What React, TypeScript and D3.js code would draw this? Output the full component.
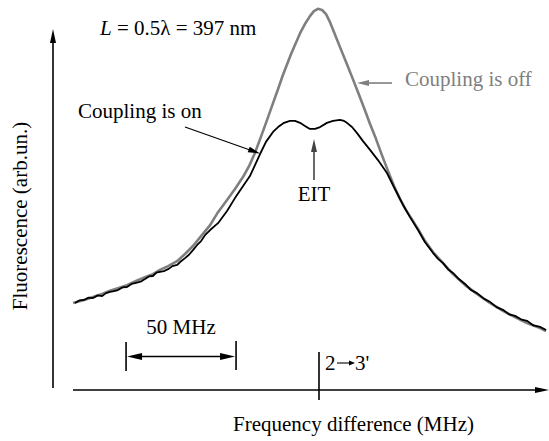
import React from "react";
import * as d3 from "d3";

// Frequency difference (MHz) and fluorescence (arb. units)
const freqOn = [-110.9,-108.8,-106.8,-104.7,-102.7,-100.6,-98.6,-96.8,-95.0,-93.2,-91.4,-89.3,-87.3,-85.2,-83.2,-81.1,-79.1,-77.3,-75.5,-73.9,-72.3,-70.5,-68.6,-66.6,-64.5,-62.7,-60.9,-59.1,-57.3,-55.5,-53.6,-51.6,-49.5,-45.9,-41.8,-38.2,-34.5,-31.4,-29.1,-26.8,-24.1,-20.9,-18.6,-15.9,-13.2,-10.9,-8.6,-6.4,-4.1,-1.8,0.5,3.6,6.4,9.5,11.4,12.7,15.0,17.3,20.0,23.2,26.8,30.9,34.5,38.2,41.4,45.0,48.2,51.8,54.1,56.4,58.6,60.9,63.6,66.4,69.1,71.8,74.8,77.7,80.7,83.6,86.4,89.1,91.8,94.5,97.5,100.5,103.2];
const fluorOn = [22.9,23.6,23.7,24.3,24.2,24.9,24.7,25.5,25.8,26.0,26.3,27.0,27.1,27.9,28.2,28.5,29.2,29.9,30.0,30.9,31.1,31.3,31.8,32.6,32.9,33.9,34.7,35.6,36.8,38.1,39.2,40.9,42.1,43.9,47.1,50.5,53.7,56.3,59.2,62.1,65.3,67.9,69.2,70.3,70.8,70.8,70.3,69.5,68.7,68.7,69.2,70.3,70.8,71.1,70.8,70.3,69.2,67.6,65.5,63.2,60.5,57.1,52.9,48.7,45.5,42.1,38.9,36.1,34.5,33.4,31.8,30.8,29.2,27.9,26.3,25.5,24.1,23.2,21.8,21.1,19.9,19.5,18.6,18.2,17.0,16.6,15.8];

const freqOff = [-111.8,-106.8,-102.7,-98.6,-95.0,-91.4,-87.3,-83.2,-79.1,-75.5,-72.3,-68.6,-64.5,-60.9,-57.3,-53.6,-49.5,-45.9,-41.8,-38.2,-34.5,-31.8,-29.1,-26.4,-23.6,-20.9,-18.6,-16.4,-12.7,-8.6,-6.4,-4.1,-2.3,-0.5,1.4,3.2,5.0,6.8,9.5,12.3,15.0,17.7,20.5,23.2,25.9,28.6,31.4,34.1,36.8,39.5,45.0,48.2,51.8,56.4,60.9,66.4,71.8,77.7,83.6,89.1,94.5,100.5,103.2];
const fluorOff = [22.9,23.7,24.5,25.3,26.1,26.8,27.6,28.7,29.7,30.5,31.6,32.6,33.9,35.8,37.9,40.5,43.4,46.8,50.0,52.9,56.1,58.9,62.4,66.6,71.1,75.5,79.2,82.9,88.4,93.9,96.3,98.4,99.7,100.3,100.0,98.9,96.8,94.2,90.3,86.3,82.4,78.4,74.2,70.0,66.1,61.8,57.6,53.7,50.3,47.4,42.4,39.2,36.3,33.4,30.5,27.6,25.3,22.9,20.8,19.2,17.6,16.3,15.5];

const scaleBarStart = -87.7; // MHz
const scaleBarWidth = 50; // MHz

const labels = {
  on: "Coupling is on",
  off: "Coupling is off",
  eit: "EIT",
  bar: "50 MHz",
  transFrom: "2",
  transTo: "3'",
  xTitle: "Frequency difference (MHz)",
  yTitle: "Fluorescence (arb.un.)",
};

const GRAY = "#7f7f7f";
const tstyle: React.CSSProperties = { fontFamily: '"Liberation Serif", "Times New Roman", Times, serif', fontSize: 21 };

function arrowHead(tx: number, ty: number, dx: number, dy: number, len: number, hw: number, fill: string) {
  const n = Math.hypot(dx, dy);
  const ux = dx / n, uy = dy / n;
  const bx = tx - ux * len, by = ty - uy * len;
  const px = -uy, py = ux;
  const pts = [
    [tx, ty],
    [bx + px * hw, by + py * hw],
    [bx - px * hw, by - py * hw],
  ];
  return <polygon points={pts.map((p) => p.join(",")).join(" ")} fill={fill} />;
}

export default function App() {
  const W = 549, H = 441;
  const x = d3.scaleLinear().domain([0, 50]).range([319, 429]);
  const y = d3.scaleLinear().domain([0, 100]).range([390, 10]);

  const line = d3.line<[number, number]>().x((d) => x(d[0])).y((d) => y(d[1])).curve(d3.curveLinear);
  const onPath = line(freqOn.map((f, i) => [f, fluorOn[i]] as [number, number])) || "";
  const offPath = line(freqOff.map((f, i) => [f, fluorOff[i]] as [number, number])) || "";

  const x0 = x(0);
  const axisY = y(0);
  const b0 = x(scaleBarStart), b1 = x(scaleBarStart + scaleBarWidth);
  const barY = 356.5;

  return (
    <svg width={W} height={H} style={{ position: "absolute", left: 0, top: 0, background: "#fff" }}>
      <rect width={W} height={H} fill="#fff" />
      {/* axes */}
      <line x1={53} y1={388} x2={53} y2={40} stroke="#000" strokeWidth={1.6} />
      {arrowHead(53, 29, 0, -1, 14, 3, "#000")}
      <line x1={73} y1={axisY} x2={538} y2={axisY} stroke="#000" strokeWidth={1.6} />
      {arrowHead(549, axisY, 1, 0, 14, 3, "#000")}
      <line x1={x0} y1={352} x2={x0} y2={400} stroke="#000" strokeWidth={1.6} />

      {/* curves */}
      <path d={offPath} fill="none" stroke={GRAY} strokeWidth={2.6} strokeLinejoin="round" />
      <path d={onPath} fill="none" stroke="#000" strokeWidth={1.8} strokeLinejoin="round" />

      {/* annotations */}
      <text x={100} y={35} style={tstyle}>
        <tspan fontStyle="italic">L</tspan> = 0.5λ = 397 nm
      </text>
      <text x={405} y={86} style={tstyle} fill={GRAY}>{labels.off}</text>
      <line x1={392} y1={83} x2={368} y2={83} stroke={GRAY} strokeWidth={1.6} />
      {arrowHead(357, 83, -1, 0, 12, 3, GRAY)}

      <text x={78} y={118} style={tstyle}>{labels.on}</text>
      <line x1={185} y1={127} x2={250} y2={150} stroke="#000" strokeWidth={1.2} />
      {arrowHead(260, 153.5, 75, 26.5, 12, 3, "#000")}

      <line x1={314} y1={180} x2={314} y2={150} stroke="#444" strokeWidth={1.6} />
      {arrowHead(314, 139, 0, -1, 13, 3, "#444")}
      <text x={314} y={201} style={tstyle} textAnchor="middle">{labels.eit}</text>

      {/* 50 MHz scale bar */}
      <text x={(b0 + b1) / 2} y={334} style={tstyle} textAnchor="middle">{labels.bar}</text>
      <line x1={b0} y1={342} x2={b0} y2={371} stroke="#000" strokeWidth={1.6} />
      <line x1={b1} y1={341} x2={b1} y2={370} stroke="#000" strokeWidth={1.6} />
      <line x1={b0 + 10} y1={barY} x2={b1 - 10} y2={barY} stroke="#000" strokeWidth={1.3} />
      {arrowHead(b0 + 1, barY, -1, 0, 15, 3.5, "#000")}
      {arrowHead(b1 - 1, barY, 1, 0, 15, 3.5, "#000")}

      {/* transition label 2 -> 3' */}
      <text x={x0 + 6} y={370} style={tstyle}>{labels.transFrom}</text>
      <line x1={x0 + 18} y1={363} x2={x0 + 32} y2={363} stroke="#000" strokeWidth={1.1} />
      {arrowHead(x0 + 36, 363, 1, 0, 6, 2.5, "#000")}
      <text x={x0 + 36} y={370} style={tstyle}>{labels.transTo}</text>

      {/* axis titles */}
      <text x={233} y={431} style={tstyle}>{labels.xTitle}</text>
      <text transform="translate(27,216) rotate(-90)" style={tstyle} textAnchor="middle">{labels.yTitle}</text>
    </svg>
  );
}
